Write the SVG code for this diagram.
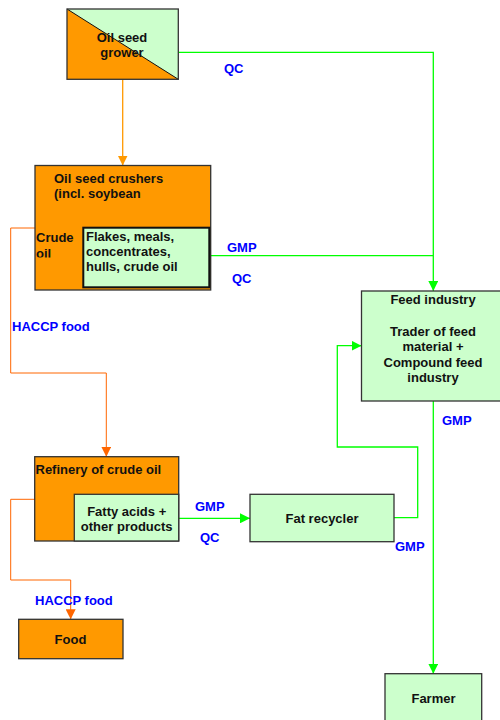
<svg xmlns="http://www.w3.org/2000/svg" width="500" height="720" viewBox="0 0 500 720">
<defs>
<style>
text{font-family:"Liberation Sans",Arial,sans-serif;font-weight:bold;font-size:13px;fill:#111}
.lbl{fill:#0000FF}
.mid{text-anchor:middle}
.box{stroke:#333;stroke-width:1.3}
.or{fill:#FF9900}
.gr{fill:#CCFFCC}
.inner{fill:#CCFFCC;stroke:#111;stroke-width:2}
.gl{fill:none;stroke:#00FF00;stroke-width:1.3}
.ol{fill:none;stroke:#FF6600;stroke-width:1}
.ol2{fill:none;stroke:#FF9900;stroke-width:1.3}
</style>
<marker id="ag" viewBox="0 0 10 10" refX="10" refY="5" markerWidth="10" markerHeight="10" markerUnits="userSpaceOnUse" orient="auto"><path d="M0,0L10,5L0,10z" fill="#00FF00"/></marker>
<marker id="ao" viewBox="0 0 10 10" refX="10" refY="5" markerWidth="10" markerHeight="10" markerUnits="userSpaceOnUse" orient="auto"><path d="M0,0L10,5L0,10z" fill="#FF6600"/></marker>
<marker id="ao2" viewBox="0 0 10 10" refX="10" refY="5" markerWidth="10" markerHeight="10" markerUnits="userSpaceOnUse" orient="auto"><path d="M0,0L10,5L0,10z" fill="#FF9900"/></marker>
<clipPath id="crudeclip"><rect x="35" y="228" width="48" height="29.5"/></clipPath>
</defs>
<rect width="500" height="720" fill="#fff"/>

<g id="connectors">
<path class="ol2" d="M122.7,79.3V165.5" marker-end="url(#ao2)"/>
<path class="gl" d="M178.3,52.3H433.3V291" marker-end="url(#ag)"/>
<path class="gl" d="M209.3,255.7H433.3"/>
<path class="ol" d="M35,228H10.7V373H106.3V456.7" marker-end="url(#ao)"/>
<path class="ol" d="M35,499.3H10.7V580H70.7V619.3" marker-end="url(#ao)"/>
<path class="gl" d="M178.7,518.3H250" marker-end="url(#ag)"/>
<path class="gl" d="M394,517.7H417.7V447H337.3V345.7H361.5" marker-end="url(#ag)"/>
<path class="gl" d="M433.3,401V673.7" marker-end="url(#ag)"/>
<text class="lbl" x="224" y="73">QC</text>
<text class="lbl" x="227" y="252">GMP</text>
<text class="lbl" x="232" y="283">QC</text>
<text class="lbl" x="12" y="331">HACCP food</text>
<text class="lbl" x="442" y="425">GMP</text>
<text class="lbl" x="195" y="511">GMP</text>
<text class="lbl" x="200" y="542">QC</text>
<text class="lbl" x="395" y="551">GMP</text>
<text class="lbl" x="35" y="605">HACCP food</text>
</g>

<g id="grower">
<rect class="gr" x="67" y="9" width="111.3" height="70.3"/>
<path class="or" d="M67,9L178.3,79.3H67z"/>
<line x1="67" y1="9" x2="178.3" y2="79.3" stroke="#111" stroke-width="1"/>
<rect x="67" y="9" width="111.3" height="70.3" fill="none" class="box"/>
<text class="mid" x="122" y="42">Oil seed</text>
<text class="mid" x="122" y="57">grower</text>
</g>

<g id="crushers">
<rect class="box or" x="35" y="165.5" width="175.7" height="124.5"/>
<text x="54" y="183">Oil seed crushers</text>
<text x="54" y="198">(incl. soybean</text>
<g clip-path="url(#crudeclip)">
<text x="36" y="242">Crude</text>
<text x="36" y="258">oil</text>
</g>
<rect class="inner" x="83.3" y="227.7" width="126" height="59.6"/>
<text x="86" y="241">Flakes, meals,</text>
<text x="86" y="256">concentrates,</text>
<text x="86" y="271">hulls, crude oil</text>
</g>

<g id="feed-industry">
<rect class="box gr" x="361.5" y="291" width="145" height="110"/>
<text class="mid" x="433" y="304">Feed industry</text>
<text class="mid" x="433" y="335.5">Trader of feed</text>
<text class="mid" x="433" y="351">material +</text>
<text class="mid" x="433" y="366.5">Compound feed</text>
<text class="mid" x="433" y="382">industry</text>
</g>

<g id="refinery">
<rect class="box or" x="34.7" y="456.7" width="144" height="84.3"/>
<text x="35.5" y="474">Refinery of crude oil</text>
<rect class="box gr" x="74.3" y="494.3" width="104.4" height="46.7"/>
<text class="mid" x="126.7" y="516">Fatty acids +</text>
<text class="mid" x="126.7" y="531">other products</text>
</g>

<g id="fat-recycler">
<rect class="box gr" x="250" y="494.3" width="144" height="47.4"/>
<text class="mid" x="322" y="523">Fat recycler</text>
</g>

<g id="food">
<rect class="box or" x="18.7" y="619.3" width="104.3" height="39.4"/>
<text class="mid" x="70.5" y="643.5">Food</text>
</g>

<g id="farmer">
<rect class="box gr" x="385" y="673.7" width="96.7" height="60"/>
<text class="mid" x="433.5" y="703">Farmer</text>
</g>
</svg>
